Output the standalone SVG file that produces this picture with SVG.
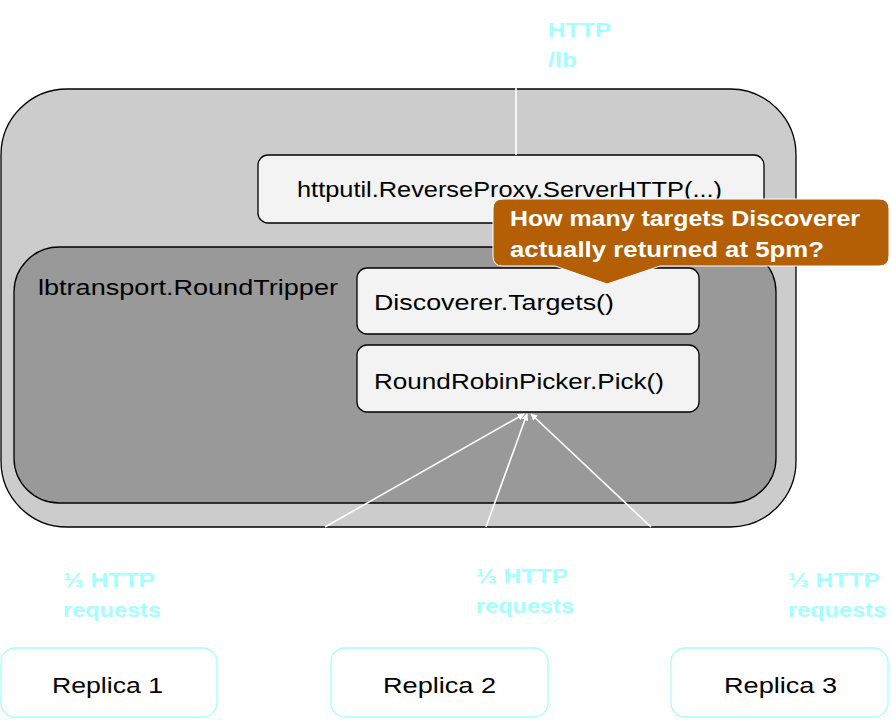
<svg xmlns="http://www.w3.org/2000/svg" width="892" height="720" viewBox="0 0 892 720">
<defs>
<style>
.box{fill:#f3f3f3;stroke:#000;stroke-width:1.3}
.t{font-family:"Liberation Sans","Noto Sans",sans-serif;font-size:22px;fill:#000}
.cy{font-family:"Liberation Sans","Noto Sans",sans-serif;font-size:21px;font-weight:bold;fill:#a4ffff}
.rep{fill:#fff;stroke:#a4ffff;stroke-width:1.3}
.conn{stroke:#fff;stroke-width:1.6;fill:none}
.co{font-family:"Liberation Sans","Noto Sans",sans-serif;font-size:22px;font-weight:bold;fill:#fff}
</style>
<marker id="ah" viewBox="0 0 10 10" refX="9" refY="5" markerWidth="7" markerHeight="7" orient="auto" markerUnits="userSpaceOnUse">
<path d="M0,0 L10,5 L0,10 z" fill="#fff"/>
</marker>
</defs>
<g id="outer">
<rect x="1" y="89" width="795" height="438" rx="66" ry="66" fill="#cccccc" stroke="#000" stroke-width="1.3"/>
</g>
<g id="serverhttp">
<rect class="box" x="258" y="155" width="506" height="68" rx="10"/>
<text class="t" x="297" y="197" textLength="425" lengthAdjust="spacingAndGlyphs">httputil.ReverseProxy.ServerHTTP(...)</text>
</g>
<g id="roundtripper">
<rect x="14" y="247" width="762" height="256" rx="45" ry="45" fill="#999999" stroke="#000" stroke-width="1.3"/>
<text class="t" x="38" y="295" textLength="300" lengthAdjust="spacingAndGlyphs">lbtransport.RoundTripper</text>
</g>
<g id="targets">
<rect class="box" x="357" y="268" width="342" height="66" rx="10"/>
<text class="t" x="374" y="310" textLength="240" lengthAdjust="spacingAndGlyphs">Discoverer.Targets()</text>
</g>
<g id="pick">
<rect class="box" x="357" y="345" width="342" height="67" rx="10"/>
<text class="t" x="374" y="389" textLength="290" lengthAdjust="spacingAndGlyphs">RoundRobinPicker.Pick()</text>
</g>
<g id="connectors">
<line class="conn" x1="516" y1="85" x2="516" y2="155"/>
<line class="conn" x1="325" y1="527" x2="524" y2="414" marker-end="url(#ah)"/>
<line class="conn" x1="486" y1="527" x2="527" y2="414" marker-end="url(#ah)"/>
<line class="conn" x1="651" y1="527" x2="531" y2="414" marker-end="url(#ah)"/>
</g>
<g id="http-label">
<text class="cy" x="548" y="37" textLength="63" lengthAdjust="spacingAndGlyphs">HTTP</text>
<text class="cy" x="548" y="67" textLength="29" lengthAdjust="spacingAndGlyphs">/lb</text>
</g>
<g id="callout">
<path d="M503,199 H879 Q889,199 889,209 V256 Q889,266 879,266 H660 L607,284 L555,266 H503 Q493,266 493,256 V209 Q493,199 503,199 Z" fill="#b45f06" stroke="#fff" stroke-width="1"/>
<text class="co" x="510" y="226" textLength="350" lengthAdjust="spacingAndGlyphs">How many targets Discoverer</text>
<text class="co" x="510" y="257" textLength="314" lengthAdjust="spacingAndGlyphs">actually returned at 5pm?</text>
</g>
<g id="label1">
<text class="cy" x="63" y="587" textLength="92" lengthAdjust="spacingAndGlyphs">⅓ HTTP</text>
<text class="cy" x="63" y="617" textLength="98" lengthAdjust="spacingAndGlyphs">requests</text>
</g>
<g id="label2">
<text class="cy" x="476" y="583" textLength="92" lengthAdjust="spacingAndGlyphs">⅓ HTTP</text>
<text class="cy" x="476" y="613" textLength="98" lengthAdjust="spacingAndGlyphs">requests</text>
</g>
<g id="label3">
<text class="cy" x="788" y="587" textLength="92" lengthAdjust="spacingAndGlyphs">⅓ HTTP</text>
<text class="cy" x="788" y="617" textLength="98" lengthAdjust="spacingAndGlyphs">requests</text>
</g>
<g id="replica1">
<rect class="rep" x="1" y="648" width="216" height="69" rx="14"/>
<text class="t" x="52" y="693" font-size="24" textLength="111" lengthAdjust="spacingAndGlyphs">Replica 1</text>
</g>
<g id="replica2">
<rect class="rep" x="331" y="648" width="217" height="69" rx="14"/>
<text class="t" x="383" y="693" font-size="24" textLength="113" lengthAdjust="spacingAndGlyphs">Replica 2</text>
</g>
<g id="replica3">
<rect class="rep" x="671" y="648" width="217" height="69" rx="14"/>
<text class="t" x="724" y="693" font-size="24" textLength="113" lengthAdjust="spacingAndGlyphs">Replica 3</text>
</g>
</svg>
